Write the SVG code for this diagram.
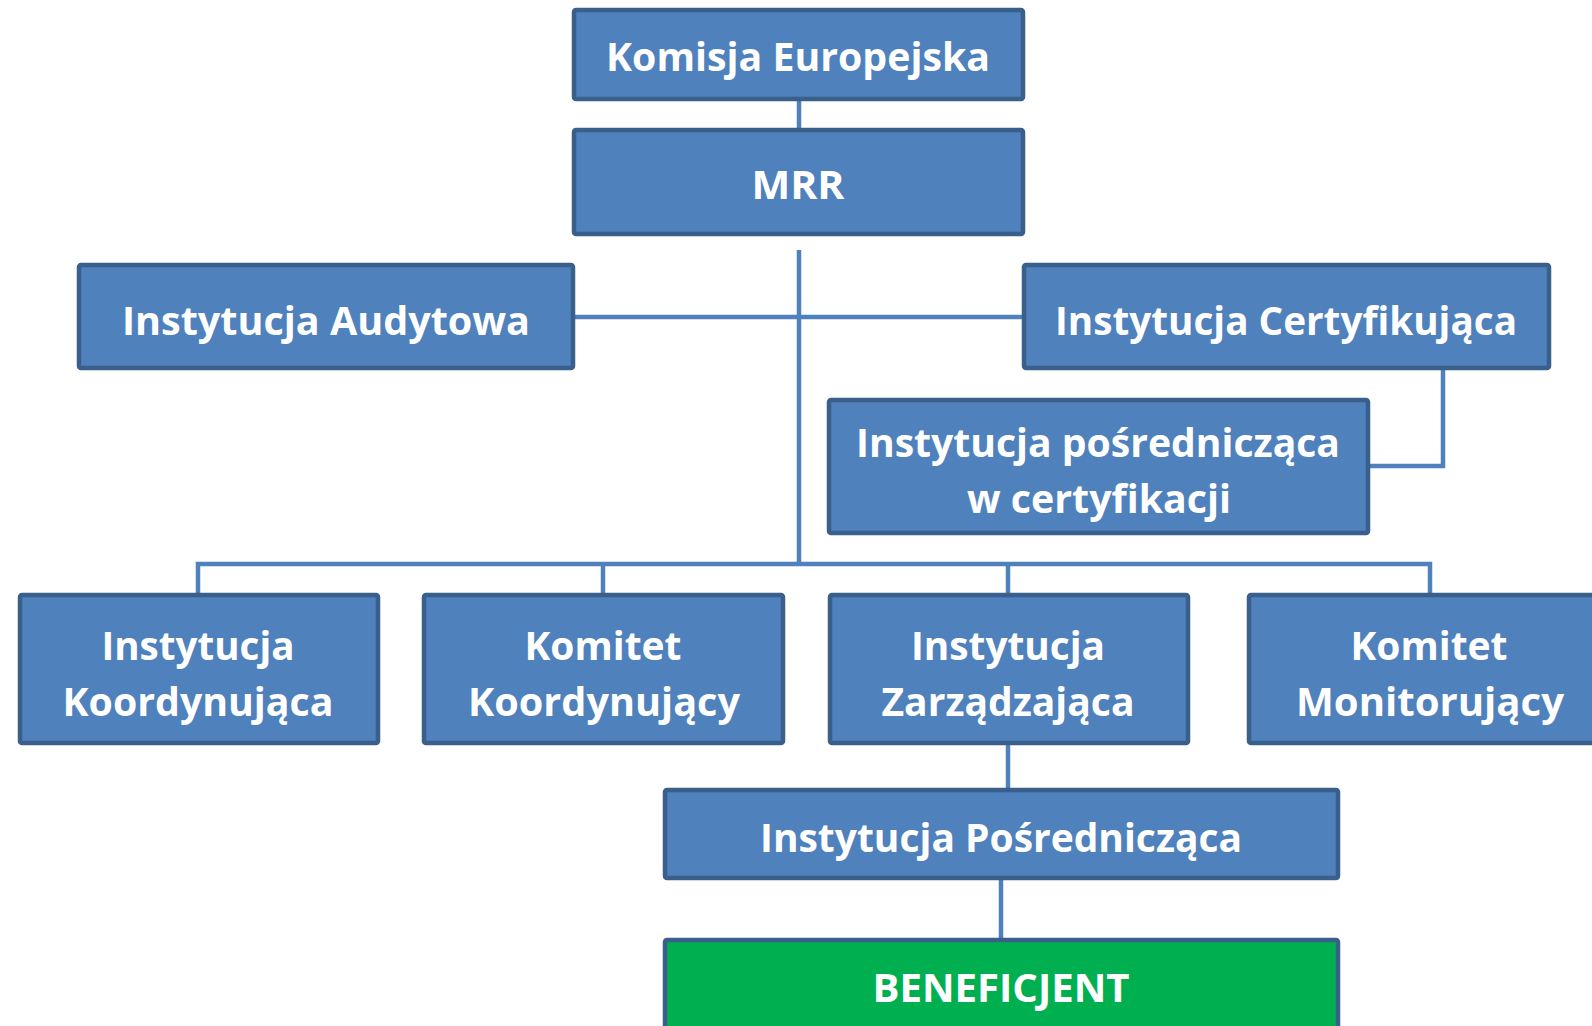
<svg xmlns="http://www.w3.org/2000/svg" width="1592" height="1026" viewBox="0 0 1592 1026">
<style>
.box{fill:#4F81BD;stroke:#3A5F8B;stroke-width:4.5}
.green{fill:#00B050;stroke:#3A5F8B;stroke-width:4.5}
.t{font-family:"Open Sans","Noto Sans","Liberation Sans",sans-serif;font-weight:bold;font-size:40px;fill:#FFFFFF;text-anchor:middle}
.c{fill:none;stroke:#4F81BD;stroke-width:4.5}
</style>
<rect width="1592" height="1026" fill="#FFFFFF"/>
<g id="connectors">
<line class="c" x1="799" y1="100" x2="799" y2="129"/>
<line class="c" x1="799" y1="250" x2="799" y2="565"/>
<line class="c" x1="575" y1="317" x2="1022" y2="317"/>
<polyline class="c" points="1443,370 1443,466 1368,466"/>
<polyline class="c" points="198,594 198,564 1430,564 1430,594"/>
<line class="c" x1="603" y1="564" x2="603" y2="594"/>
<line class="c" x1="1008" y1="564" x2="1008" y2="594"/>
<line class="c" x1="1008" y1="745" x2="1008" y2="790"/>
<line class="c" x1="1001" y1="880" x2="1001" y2="940"/>
</g>
<g id="n-ke"><rect class="box" x="574" y="10" width="449" height="89" rx="2"/><text class="t" x="798" y="71" textLength="384" lengthAdjust="spacingAndGlyphs">Komisja Europejska</text></g>
<g id="n-mrr"><rect class="box" x="574" y="130" width="449" height="104" rx="2"/><text class="t" x="798" y="199" textLength="93" lengthAdjust="spacingAndGlyphs">MRR</text></g>
<g id="n-ia"><rect class="box" x="79" y="265" width="494" height="103" rx="2"/><text class="t" x="326" y="335" textLength="408" lengthAdjust="spacingAndGlyphs">Instytucja Audytowa</text></g>
<g id="n-ic"><rect class="box" x="1024" y="265" width="525" height="103" rx="2"/><text class="t" x="1286" y="335" textLength="462" lengthAdjust="spacingAndGlyphs">Instytucja Certyfikująca</text></g>
<g id="n-ipwc"><rect class="box" x="829" y="400" width="539" height="133" rx="2"/><text class="t" x="1098" y="457" textLength="484" lengthAdjust="spacingAndGlyphs">Instytucja pośrednicząca</text><text class="t" x="1099" y="513" textLength="264" lengthAdjust="spacingAndGlyphs">w certyfikacji</text></g>
<g id="n-ik"><rect class="box" x="20" y="595" width="358" height="148" rx="2"/><text class="t" x="198" y="660" textLength="193" lengthAdjust="spacingAndGlyphs">Instytucja</text><text class="t" x="198" y="716" textLength="271" lengthAdjust="spacingAndGlyphs">Koordynująca</text></g>
<g id="n-kk"><rect class="box" x="424" y="595" width="359" height="148" rx="2"/><text class="t" x="603" y="660" textLength="157" lengthAdjust="spacingAndGlyphs">Komitet</text><text class="t" x="604" y="716" textLength="272" lengthAdjust="spacingAndGlyphs">Koordynujący</text></g>
<g id="n-iz"><rect class="box" x="830" y="595" width="358" height="148" rx="2"/><text class="t" x="1008" y="660" textLength="194" lengthAdjust="spacingAndGlyphs">Instytucja</text><text class="t" x="1008" y="716" textLength="253" lengthAdjust="spacingAndGlyphs">Zarządzająca</text></g>
<g id="n-km"><rect class="box" x="1249" y="595" width="363" height="148" rx="2"/><text class="t" x="1429" y="660" textLength="157" lengthAdjust="spacingAndGlyphs">Komitet</text><text class="t" x="1430" y="716" textLength="268" lengthAdjust="spacingAndGlyphs">Monitorujący</text></g>
<g id="n-ip"><rect class="box" x="665" y="790" width="673" height="88" rx="2"/><text class="t" x="1001" y="852" textLength="482" lengthAdjust="spacingAndGlyphs">Instytucja Pośrednicząca</text></g>
<g id="n-ben"><rect class="green" x="665" y="940" width="673" height="96" rx="2"/><text class="t" x="1001" y="1002" textLength="257" lengthAdjust="spacingAndGlyphs">BENEFICJENT</text></g>
</svg>
